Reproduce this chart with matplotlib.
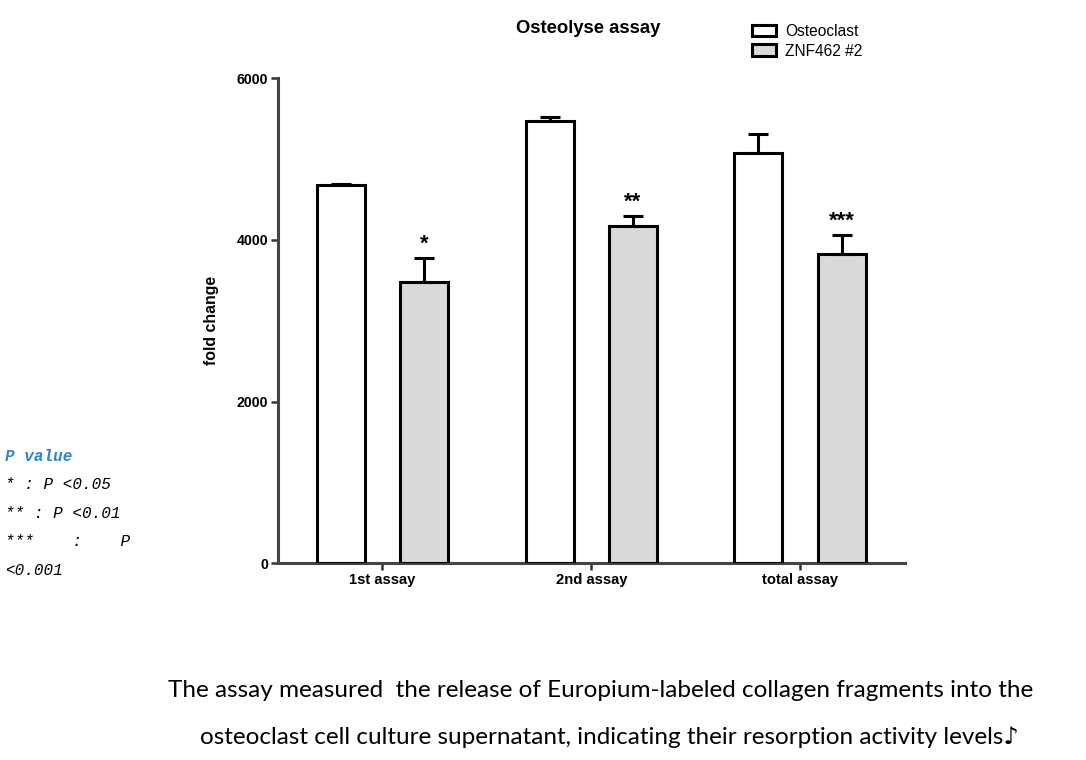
import numpy as np
import matplotlib
matplotlib.use('Agg')
from matplotlib import pyplot as plt

categories = ['1st assay', '2nd assay', 'total assay']
osteoclast = [4676, 5468, 5072]  # mean values
osteoclast_err = [15, 50, 235]
znf462 = [3476, 4169, 3823]
znf462_err = [297, 124, 235]
stars = ['*', '**', '***']

plt.rcParams['font.family'] = ['Liberation Sans', 'DejaVu Sans']

fig = plt.figure(figsize=(10.86, 7.6), dpi=100)
ax = fig.add_axes([0.256, 0.259, 0.577, 0.638])

x = np.arange(len(categories))
w = 0.23
off = 0.2
ax.bar(x - off, osteoclast, w, color='white', edgecolor='black', linewidth=2.2,
       yerr=[np.zeros(3), osteoclast_err], error_kw=dict(ecolor='black', elinewidth=2.2, capsize=7, capthick=2.2),
       label='Osteoclast', zorder=3)
ax.bar(x + off, znf462, w, color='#d9d9d9', edgecolor='black', linewidth=2.2,
       yerr=[np.zeros(3), znf462_err], error_kw=dict(ecolor='black', elinewidth=2.2, capsize=7, capthick=2.2),
       label='ZNF462 #2', zorder=3)

for i in range(3):  # significance stars above the error bars
    ax.text(x[i] + off, znf462[i] + znf462_err[i] + 40, stars[i], ha='center', va='bottom',
            fontsize=16, fontweight='bold')

ax.set_xlim(-0.5, 2.5)
ax.set_ylim(0, 6000)
ax.set_yticks([0, 2000, 4000, 6000])
ax.set_xticks(x)
ax.set_xticklabels(categories, fontsize=10.6, fontweight='bold')
for lab in ax.get_yticklabels():
    lab.set_fontweight('bold')
    lab.set_fontsize(10.2)
ax.tick_params(axis='both', width=1.8, length=5, color='#333333', pad=2)
ax.spines['top'].set_visible(False)
ax.spines['right'].set_visible(False)
ax.spines['left'].set_linewidth(2.2)
ax.spines['bottom'].set_linewidth(2.2)
ax.spines['left'].set_color('#444444')
ax.spines['bottom'].set_color('#444444')
ax.set_ylabel('fold change', fontsize=11.4, fontweight='bold', labelpad=13)

fig.text(0.542, 0.962, 'Osteolyse assay', ha='center', va='center', fontsize=13.3, fontweight='bold')
fig.legend(loc='upper left', bbox_to_anchor=(0.680, 0.987), frameon=False, fontsize=11.2,
           handlelength=1.5, handleheight=0.8, handletextpad=0.6, labelspacing=0.3)

# p value key on the left
mono = ['Liberation Mono', 'DejaVu Sans Mono']
fig.text(0.005, 0.399, 'P value', family=mono, style='italic', fontweight='bold',
         color='#2e86c8', fontsize=11.5, va='center')
key_lines = ['* : P <0.05', '** : P <0.01', '***    :    P', '<0.001']
key_y = [0.362, 0.324, 0.287, 0.249]
for txt, yy in zip(key_lines, key_y):
    fig.text(0.005, yy, txt, family=mono, style='italic', fontsize=11.5, va='center')

cap = ['Liberation Sans Narrow', 'Lato', 'DejaVu Sans']
fig.text(0.553, 0.092, 'The assay measured  the release of Europium-labeled collagen fragments into the',
         family=cap, fontsize=17.5, ha='center', va='center')
fig.text(0.561, 0.030, 'osteoclast cell culture supernatant, indicating their resorption activity levels\u266a',
         family=cap, fontsize=17.5, ha='center', va='center')

fig.savefig('out.png', dpi=100)
